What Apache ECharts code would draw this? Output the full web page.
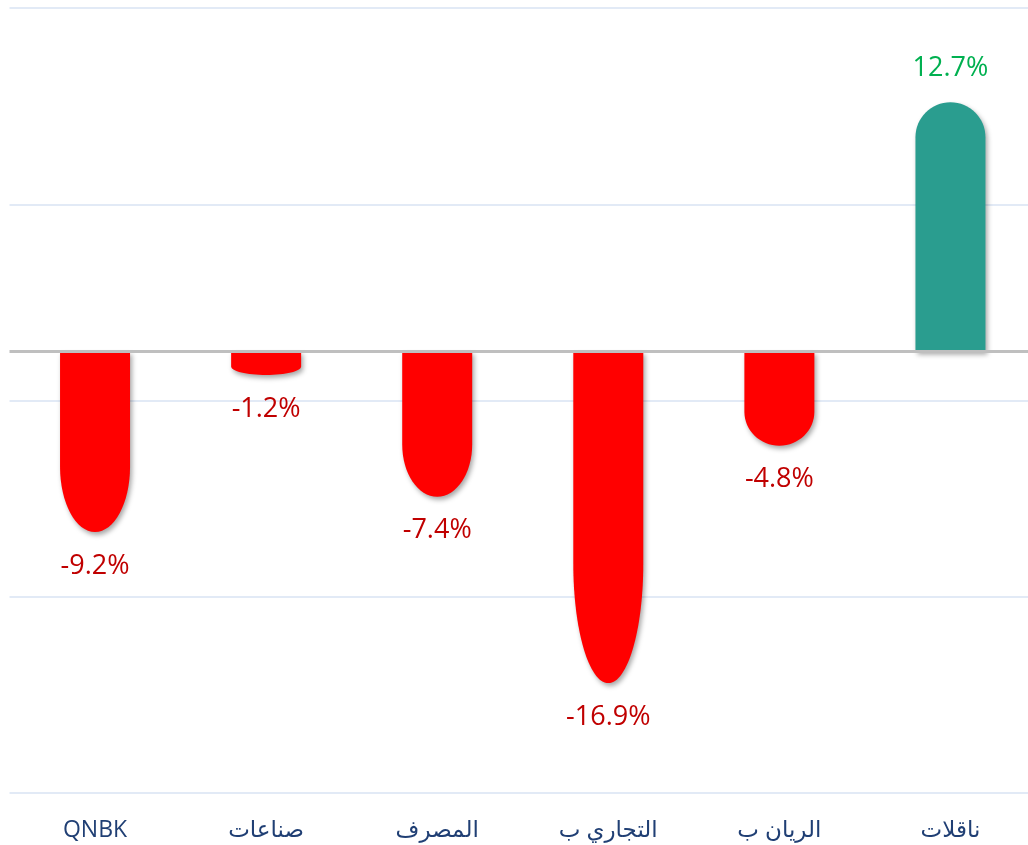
<!DOCTYPE html>
<html>
<head>
<meta charset="utf-8">
<script src="https://cdn.jsdelivr.net/npm/echarts@6/dist/echarts.min.js"></script>
<style>
	html, body { margin: 0; padding: 0; background: #fff; overflow: hidden; }
	#chart { width: 1036px; height: 845px; }
</style>
</head>
<body>
<div id="chart"></div>
<script>
// chart data
var categories = ['QNBK', 'صناعات', 'المصرف', 'التجاري ب', 'الريان ب', 'ناقلات'];
var changes = [-9.2, -1.2, -7.4, -16.9, -4.8, 12.7];
var yTicks = { min: -22.5, max: 17.5, step: 10 };

var fontStack = '"Open Sans", "DejaVu Sans", sans-serif';

// bar with a rounded (elliptic) far end
function renderBar(params, api) {
	var i = api.value(0);
	var v = api.value(1);
	var base = api.coord([i, 0]);
	var end = api.coord([i, v]);
	var w = 70;
	var rx = w / 2;
	var x0 = base[0] - rx, x1 = base[0] + rx, xc = base[0];
	var len = Math.abs(end[1] - base[1]);
	var dir = end[1] > base[1] ? 1 : -1;
	var ry = v >= 0 ? rx : len * 0.36;
	if (ry > len) ry = len;
	var k = 0.5523;
	var yS = end[1] - dir * ry;
	var path = 'M' + x0 + ' ' + base[1] +
		' L' + x0 + ' ' + yS +
		' C' + x0 + ' ' + (yS + dir * k * ry) + ' ' + (xc - k * rx) + ' ' + end[1] + ' ' + xc + ' ' + end[1] +
		' C' + (xc + k * rx) + ' ' + end[1] + ' ' + x1 + ' ' + (yS + dir * k * ry) + ' ' + x1 + ' ' + yS +
		' L' + x1 + ' ' + base[1] + ' Z';
	var pos = v >= 0;
	return {
		type: 'group',
		children: [{
			type: 'path',
			shape: { pathData: path },
			style: {
				fill: pos ? '#2a9d8f' : '#ff0000',
				shadowBlur: 5,
				shadowOffsetX: 2,
				shadowOffsetY: 3,
				shadowColor: 'rgba(0,0,0,0.35)'
			}
		}, {
			type: 'text',
			style: {
				text: v.toFixed(1) + '%',
				x: xc,
				y: end[1] + dir * 34,
				align: 'center',
				verticalAlign: 'middle',
				fill: pos ? '#00b050' : '#c00000',
				fontSize: 27,
				fontFamily: fontStack
			}
		}]
	};
}

var chart = echarts.init(document.getElementById('chart'));
chart.setOption({
	animation: false,
	grid: {
		left: 9.5,
		right: 0,
		top: 8,
		bottom: 52
	},
	xAxis: {
		type: 'category',
		data: categories,
		axisLine: { show: false },
		axisTick: { show: false },
		axisLabel: {
			margin: 26,
			color: '#203f74',
			fontSize: 23,
			fontFamily: fontStack
		}
	},
	yAxis: {
		type: 'value',
		min: yTicks.min,
		max: yTicks.max,
		interval: yTicks.step,
		axisLine: { show: false },
		axisTick: { show: false },
		axisLabel: { show: false },
		splitLine: {
			lineStyle: { color: '#d9e3f3', width: 1.5 }
		}
	},
	series: [{
		type: 'custom',
		renderItem: renderBar,
		data: changes.map(function (v, i) { return [i, v]; }),
		markLine: {
			silent: true,
			symbol: 'none',
			label: { show: false },
			lineStyle: { color: '#bfbfbf', width: 3, type: 'solid' },
			data: [{ yAxis: 0 }]
		}
	}]
});
</script>
</body>
</html>
